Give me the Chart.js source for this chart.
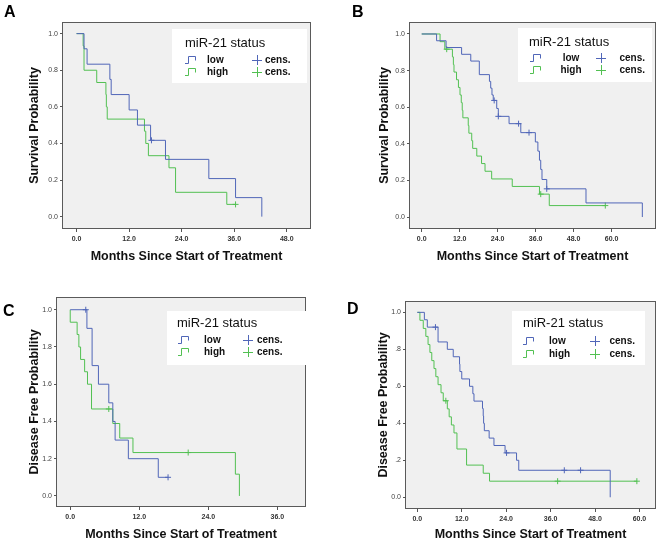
<!DOCTYPE html>
<html>
<head>
<meta charset="utf-8">
<script src="https://cdn.jsdelivr.net/npm/chart.js@4/dist/chart.umd.min.js"></script>
<style>
body { margin: 0; background: #fff; }
#wrap { position: relative; width: 661px; height: 543px; overflow: hidden; }
canvas { position: absolute; }
.tag { position: absolute; font: bold 16px "Liberation Sans", Arial, sans-serif; line-height: 16px; color: #000; }
</style>
</head>
<body>
<div id="wrap">
  <canvas id="chartA" width="330" height="270" style="left:0;top:0"></canvas>
  <canvas id="chartB" width="331" height="270" style="left:330px;top:0"></canvas>
  <canvas id="chartC" width="330" height="273" style="left:0;top:270px"></canvas>
  <canvas id="chartD" width="331" height="273" style="left:330px;top:270px"></canvas>
  <div class="tag" style="left:4px;top:4px">A</div>
  <div class="tag" style="left:352px;top:4px">B</div>
  <div class="tag" style="left:3px;top:303px">C</div>
  <div class="tag" style="left:347px;top:301px">D</div>
</div>
<script>
// ---- data (months, probability) ----
const aLowTime  = [0, 1.7, 2.4, 7.6, 7.9, 12.0, 13.9, 16.9, 20.3, 30.2, 36.3, 42.3];
const aLowSurv  = [1, 0.917, 0.833, 0.75, 0.667, 0.583, 0.5, 0.417, 0.313, 0.208, 0.104, 0];
const aLowCensTime = [17.1];
const aLowCensSurv = [0.417];
const aHighTime = [0, 1.5, 1.7, 4.6, 6.7, 6.8, 7.0, 15.5, 15.8, 16.4, 21.1, 22.6, 34.3, 36.3];
const aHighSurv = [1, 0.933, 0.8, 0.733, 0.667, 0.6, 0.533, 0.467, 0.4, 0.333, 0.267, 0.133, 0.067, 0.067];
const aHighCensTime = [36.3];
const aHighCensSurv = [0.067];

const bLowTime  = [0, 4.7, 7.7, 12.6, 15.5, 18.2, 21.4, 21.8, 22.2, 22.6, 23.7, 24.2, 27.6, 31.3, 35.9, 36.7, 37.2, 37.6, 38.0, 39.5, 51.9, 69.7];
const bLowSurv  = [1, 0.963, 0.926, 0.889, 0.852, 0.778, 0.741, 0.704, 0.667, 0.637, 0.593, 0.55, 0.51, 0.461, 0.41, 0.36, 0.31, 0.26, 0.205, 0.154, 0.077, 0];
const bLowCensTime = [22.9, 24.2, 30.6, 33.9, 39.5];
const bLowCensSurv = [0.637, 0.55, 0.51, 0.461, 0.154];
const bHighTime = [0, 5.8, 7.3, 9.7, 10.0, 10.2, 11.0, 11.6, 12.1, 12.5, 12.8, 13.0, 14.7, 14.9, 15.8, 16.1, 17.4, 18.9, 20.0, 22.1, 28.6, 37.2, 40.3, 58.0];
const bHighSurv = [1, 0.958, 0.917, 0.875, 0.833, 0.792, 0.75, 0.708, 0.667, 0.625, 0.583, 0.542, 0.5, 0.458, 0.417, 0.375, 0.333, 0.292, 0.25, 0.208, 0.167, 0.125, 0.0625, 0.0625];
const bHighCensTime = [7.9, 37.6, 58.0];
const bHighCensSurv = [0.917, 0.125, 0.0625];

const cLowTime  = [0, 2.9, 3.8, 4.9, 6.7, 7.4, 7.8, 10.1, 15.3, 17.0];
const cLowSurv  = [1, 0.9, 0.7, 0.6, 0.5, 0.4, 0.3, 0.2, 0.1, 0.1];
const cLowCensTime = [2.7, 17.0];
const cLowCensSurv = [1.0, 0.1];
const cHighTime = [0, 0, 1.2, 1.5, 1.8, 2.5, 3.0, 3.7, 7.4, 8.6, 10.9, 28.7, 29.4];
const cHighSurv = [1, 0.933, 0.867, 0.8, 0.733, 0.667, 0.6, 0.467, 0.389, 0.311, 0.233, 0.117, 0];
const cHighCensTime = [6.7, 20.5];
const cHighCensSurv = [0.467, 0.233];

const dLowTime  = [0, 1.9, 2.7, 5.6, 8.1, 9.7, 11.4, 11.5, 12.0, 14.1, 15.0, 15.3, 17.6, 17.8, 17.9, 18.1, 19.4, 20.7, 23.7, 26.8, 27.4, 52.1];
const dLowSurv  = [1, 0.96, 0.92, 0.84, 0.80, 0.76, 0.72, 0.68, 0.64, 0.60, 0.56, 0.52, 0.48, 0.44, 0.40, 0.36, 0.32, 0.28, 0.24, 0.20, 0.146, 0];
const dLowCensTime = [4.9, 24.1, 39.7, 44.1];
const dLowCensSurv = [0.92, 0.24, 0.146, 0.146];
const dHighTime = [0, 0.7, 1.6, 2.3, 2.9, 3.4, 3.9, 4.5, 5.0, 5.6, 6.4, 7.0, 8.1, 8.6, 9.2, 9.9, 10.7, 13.3, 17.8, 19.5, 59.3];
const dHighSurv = [1, 0.957, 0.913, 0.870, 0.826, 0.783, 0.739, 0.696, 0.652, 0.609, 0.565, 0.522, 0.478, 0.435, 0.391, 0.348, 0.261, 0.174, 0.13, 0.087, 0.087];
const dHighCensTime = [7.7, 37.9, 59.3];
const dHighCensSurv = [0.522, 0.087, 0.087];

const xTicks36 = [0, 12, 24, 36];
const xTicks48 = [0, 12, 24, 36, 48];
const xTicks60 = [0, 12, 24, 36, 48, 60];
const yTicks = [0, 0.2, 0.4, 0.6, 0.8, 1.0];
const yLabelsSurv = ['0.0', '0.2', '0.4', '0.6', '0.8', '1.0'];
const yLabelsC = ['0.0', '1.2', '1.4', '1.6', '1.8', '1.0'];
const yLabelsD = ['0.0', '.2', '.4', '.6', '.8', '1.0'];

const legendTitle = 'miR-21 status';
const groupNames = ['low', 'high'];
const censName = 'cens.';
const xTitle = 'Months Since Start of Treatment';

const blue = '#5066b8';
const green = '#52c052';
const FONT = '"Liberation Sans", Arial, sans-serif';
Chart.defaults.font.family = FONT;

function pts(xs, ys) {
  return xs.map((x, i) => ({ x: x, y: ys[i] }));
}

// grey plot area with a box round it
const plotBox = {
  id: 'plotBox',
  beforeDraw(chart) {
    const { ctx, chartArea: a } = chart;
    ctx.save();
    ctx.fillStyle = '#f0f0f0';
    ctx.fillRect(a.left, a.top, a.right - a.left, a.bottom - a.top);
    ctx.strokeStyle = '#5a5a5a';
    ctx.lineWidth = 1;
    ctx.strokeRect(Math.round(a.left) - 0.5, Math.round(a.top) - 0.5,
      Math.round(a.right - a.left) + 1, Math.round(a.bottom - a.top) + 1);
    ctx.restore();
  }
};

// SPSS style legend box
function kmLegend(L) {
  return {
    id: 'kmLegend',
    afterDraw(chart) {
      const ctx = chart.ctx;
      ctx.save();
      ctx.fillStyle = '#fff';
      ctx.fillRect(L.x, L.y, L.w, L.h);
      ctx.fillStyle = '#111';
      ctx.textBaseline = 'middle';
      ctx.font = '13px ' + FONT;
      ctx.textAlign = 'left';
      ctx.fillText(legendTitle, L.titleX, L.titleY);
      ctx.font = 'bold 10px ' + FONT;
      [blue, green].forEach((col, i) => {
        const y = L.rows[i];
        ctx.strokeStyle = col;
        ctx.lineWidth = 1;
        ctx.beginPath();
        ctx.moveTo(L.iconX, y + 3.5);
        ctx.lineTo(L.iconX + 3.5, y + 3.5);
        ctx.lineTo(L.iconX + 3.5, y - 3.5);
        ctx.lineTo(L.iconX + 10.5, y - 3.5);
        ctx.lineTo(L.iconX + 10.5, y + 0.5);
        ctx.stroke();
        ctx.beginPath();
        ctx.moveTo(L.crossX - 5, Math.round(y) + 0.5);
        ctx.lineTo(L.crossX + 5, Math.round(y) + 0.5);
        ctx.moveTo(Math.round(L.crossX) + 0.5, y - 5);
        ctx.lineTo(Math.round(L.crossX) + 0.5, y + 5);
        ctx.stroke();
        ctx.fillStyle = '#111';
        ctx.textAlign = L.labelAlign;
        ctx.fillText(groupNames[i], L.labelX, y);
        ctx.textAlign = L.censAlign;
        ctx.fillText(censName, L.censX, y);
      });
      ctx.restore();
    }
  };
}

function makeChart(id, p) {
  const lineSet = (t, s, col) => ({
    data: pts(t, s), borderColor: col, borderWidth: 1, stepped: 'before',
    pointRadius: 0, fill: false
  });
  const censSet = (t, s, col) => ({
    type: 'scatter', data: pts(t, s), showLine: false, pointStyle: 'cross',
    pointRadius: 3, borderColor: col, backgroundColor: col, borderWidth: 1
  });
  new Chart(document.getElementById(id), {
    type: 'line',
    data: {
      datasets: [
        lineSet(p.lowT, p.lowS, blue),
        lineSet(p.highT, p.highS, green),
        censSet(p.lowCT, p.lowCS, blue),
        censSet(p.highCT, p.highCS, green)
      ]
    },
    options: {
      responsive: false,
      animation: false,
      events: [],
      layout: { padding: { top: p.padTop, right: p.padRight, left: 0, bottom: 0 } },
      plugins: { legend: { display: false }, tooltip: { enabled: false } },
      scales: {
        x: {
          type: 'linear', min: p.xMin, max: p.xMax,
          afterBuildTicks: s => { s.ticks = p.xTicks.map(v => ({ value: v })); },
          afterFit: s => { s.height = p.xAxisH; },
          ticks: {
            autoSkip: false, maxRotation: 0, padding: 3, color: '#333',
            font: { size: 7, weight: 'bold' },
            callback: v => v.toFixed(1)
          },
          grid: { drawOnChartArea: false, tickLength: 4, color: '#555' },
          border: { display: false },
          title: {
            display: true, text: xTitle, color: '#111',
            font: { size: 12.5, weight: 'bold' },
            padding: { top: 0, bottom: p.xTitlePad }
          }
        },
        y: {
          type: 'linear', min: p.yMin, max: p.yMax,
          afterBuildTicks: s => { s.ticks = yTicks.map(v => ({ value: v })); },
          afterFit: s => { s.width = p.yAxisW; },
          ticks: {
            autoSkip: false, padding: 2, color: '#444',
            font: { size: 7 },
            callback: (v, i) => p.yLabels[i]
          },
          grid: { drawOnChartArea: false, tickLength: 3, color: '#555' },
          border: { display: false },
          title: {
            display: true, text: p.yTitle, color: '#111',
            font: { size: 12.5, weight: 'bold' },
            padding: { top: p.yTitlePad, bottom: 0 }
          }
        }
      }
    },
    plugins: [plotBox, kmLegend(p.legend)]
  });
}

makeChart('chartA', {
  lowT: aLowTime, lowS: aLowSurv, lowCT: aLowCensTime, lowCS: aLowCensSurv,
  highT: aHighTime, highS: aHighSurv, highCT: aHighCensTime, highCS: aHighCensSurv,
  xMin: -3.1, xMax: 53.3, yMin: -0.062, yMax: 1.058, xTicks: xTicks48,
  yLabels: yLabelsSurv, yTitle: 'Survival Probability',
  padTop: 23, padRight: 20, yAxisW: 63, xAxisH: 42, xTitlePad: 5.5, yTitlePad: 27.5,
  legend: { x: 172, y: 29, w: 135, h: 54, titleX: 185, titleY: 43, rows: [60, 72],
    iconX: 185, labelX: 207, labelAlign: 'left', crossX: 257, censX: 265, censAlign: 'left' }
});

makeChart('chartB', {
  lowT: bLowTime, lowS: bLowSurv, lowCT: bLowCensTime, lowCS: bLowCensSurv,
  highT: bHighTime, highS: bHighSurv, highCT: bHighCensTime, highCS: bHighCensSurv,
  xMin: -3.7, xMax: 73.7, yMin: -0.06, yMax: 1.06, xTicks: xTicks60,
  yLabels: yLabelsSurv, yTitle: 'Survival Probability',
  padTop: 23, padRight: 6, yAxisW: 80, xAxisH: 42, xTitlePad: 5.5, yTitlePad: 47.5,
  legend: { x: 188, y: 28, w: 134, h: 54, titleX: 199, titleY: 42, rows: [58, 70],
    iconX: 200, labelX: 241, labelAlign: 'center', crossX: 271, censX: 315, censAlign: 'right' }
});

makeChart('chartC', {
  lowT: cLowTime, lowS: cLowSurv, lowCT: cLowCensTime, lowCS: cLowCensSurv,
  highT: cHighTime, highS: cHighSurv, highCT: cHighCensTime, highCS: cHighCensSurv,
  xMin: -2.3, xMax: 40.8, yMin: -0.054, yMax: 1.063, xTicks: xTicks36,
  yLabels: yLabelsC, yTitle: 'Disease Free Probability',
  padTop: 28, padRight: 25, yAxisW: 57, xAxisH: 37, xTitlePad: 0.5, yTitlePad: 27.5,
  legend: { x: 167, y: 41, w: 141, h: 54, titleX: 177, titleY: 53, rows: [70, 82],
    iconX: 178, labelX: 204, labelAlign: 'left', crossX: 248, censX: 257, censAlign: 'left' }
});

makeChart('chartD', {
  lowT: dLowTime, lowS: dLowSurv, lowCT: dLowCensTime, lowCS: dLowCensSurv,
  highT: dHighTime, highS: dHighSurv, highCT: dHighCensTime, highCS: dHighCensSurv,
  xMin: -3.06, xMax: 64.2, yMin: -0.058, yMax: 1.056, xTicks: xTicks60,
  yLabels: yLabelsD, yTitle: 'Disease Free Probability',
  padTop: 32, padRight: 6, yAxisW: 76, xAxisH: 35, xTitlePad: 0.5, yTitlePad: 46.5,
  legend: { x: 182, y: 41, w: 133, h: 54, titleX: 193, titleY: 53, rows: [71, 84],
    iconX: 193, labelX: 219, labelAlign: 'left', crossX: 265, censX: 305, censAlign: 'right' }
});
</script>
</body>
</html>
